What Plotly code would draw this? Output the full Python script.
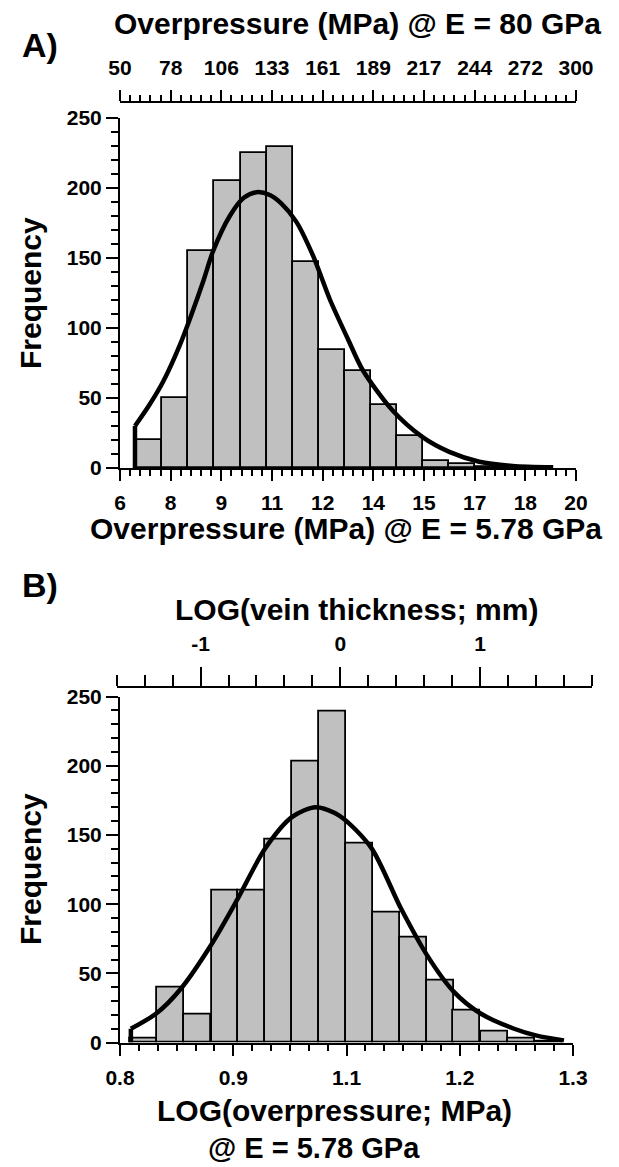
import numpy as np
import plotly.graph_objects as go

# The page body has an 8 px default margin, so the figure is 8 px smaller than the window
# on the right/bottom and every reference pixel position is shifted by 8 px.
OFF = 8
W, H = 619 - OFF, 1167 - OFF
FONT = "Liberation Sans, Arial, Helvetica, sans-serif"

# ---------------- Panel A data ----------------
a_bin_left = [6.5, 7.3, 8.1, 8.9, 9.7, 10.5, 11.3, 12.1, 12.9, 13.7, 14.5, 15.3, 16.1, 16.9, 17.7]
a_bin_width = 0.8
a_counts = [20, 50, 155, 205, 225, 229, 147, 84, 69, 45, 23, 5, 3, 1, 1]
a_curve_start_x = [6.46, 6.46]
a_curve_start_y = [0, 30]
a_curve_x = [6.46, 6.9, 7.33, 7.84, 8.2, 8.55, 8.86, 9.37, 9.8, 10.19, 10.6, 10.95,
             11.41, 11.92, 12.45, 13.0, 13.45, 14.37, 15.29, 16.11, 17.03, 18.05, 19.3]
a_curve_y = [30, 45, 62, 88, 110, 133, 155, 180, 193, 197, 195, 189,
             176, 152, 120, 92, 70, 41, 22, 11.5, 4.5, 1.5, 0.5]
a_bottom_ticktext = ["6", "8", "9", "11", "12", "14", "15", "17", "18", "20"]
a_top_ticktext = ["50", "78", "106", "133", "161", "189", "217", "244", "272", "300"]
a_bottom_range = [6, 20]
a_top_range = [50, 300]

# ---------------- Panel B data ----------------
b_bin_left = [0.811, 0.841, 0.871, 0.901, 0.930, 0.960, 0.990, 1.020, 1.049, 1.079,
              1.109, 1.139, 1.168, 1.198, 1.228, 1.258]
b_bin_width = 0.0297
b_counts = [3, 40, 20, 110, 110, 147, 203, 239, 144, 94, 76, 45, 23, 8, 3, 1]
b_curve_start_x = [0.812, 0.812]
b_curve_start_y = [0, 10]
b_curve_x = [0.812, 0.84, 0.866, 0.90, 0.93, 0.96, 0.99, 1.016, 1.042, 1.077,
             1.11, 1.139, 1.168, 1.198, 1.235, 1.26, 1.29]
b_curve_y = [10, 21, 38, 70, 104, 140, 163, 170, 164, 141,
             97, 63, 37, 21, 10, 5, 1.5]
b_bottom_ticktext = ["0.8", "0.9", "1.1", "1.2", "1.3"]
b_bottom_range = [0.8, 1.3]
b_top_tickvals = [-1, 0, 1]
b_top_ticktext = ["-1", "0", "1"]
b_top_range = [-1.6, 1.8]

y_range = [0, 250]


def px(x):
    return (x - OFF) / W


def py(y):
    return 1 - (y - OFF) / H


BAR_FILL = "#c0c0c0"
CURVE = dict(color="black", width=4.5)

fig = go.Figure()

fig.add_trace(go.Bar(x=a_bin_left, y=a_counts, width=a_bin_width, offset=0,
                     marker=dict(color=BAR_FILL, line=dict(color="black", width=1.8)),
                     xaxis="x", yaxis="y", showlegend=False, hoverinfo="skip"))
fig.add_trace(go.Scatter(x=a_curve_start_x, y=a_curve_start_y, mode="lines",
                         line=CURVE, xaxis="x", yaxis="y", showlegend=False, hoverinfo="skip"))
fig.add_trace(go.Scatter(x=a_curve_x, y=a_curve_y, mode="lines",
                         line=dict(**CURVE, shape="spline", smoothing=0.8),
                         xaxis="x", yaxis="y", showlegend=False, hoverinfo="skip"))
# empty trace so the top (secondary) axis of panel A is drawn
fig.add_trace(go.Scatter(x=a_top_range, y=[None, None], mode="markers",
                         marker=dict(opacity=0), xaxis="x2", yaxis="y",
                         showlegend=False, hoverinfo="skip"))

fig.add_trace(go.Bar(x=b_bin_left, y=b_counts, width=b_bin_width, offset=0,
                     marker=dict(color=BAR_FILL, line=dict(color="black", width=1.8)),
                     xaxis="x3", yaxis="y3", showlegend=False, hoverinfo="skip"))
fig.add_trace(go.Scatter(x=b_curve_start_x, y=b_curve_start_y, mode="lines",
                         line=CURVE, xaxis="x3", yaxis="y3", showlegend=False, hoverinfo="skip"))
fig.add_trace(go.Scatter(x=b_curve_x, y=b_curve_y, mode="lines",
                         line=dict(**CURVE, shape="spline", smoothing=0.8),
                         xaxis="x3", yaxis="y3", showlegend=False, hoverinfo="skip"))
# empty trace so the top axis of panel B is drawn
fig.add_trace(go.Scatter(x=b_top_range, y=[None, None], mode="markers",
                         marker=dict(opacity=0), xaxis="x4", yaxis="y4",
                         showlegend=False, hoverinfo="skip"))

tickfont = dict(family=FONT, size=21, color="black", weight="bold")
common = dict(showline=True, linecolor="black", linewidth=2, ticks="outside",
              tickcolor="black", tickwidth=2, showgrid=False, zeroline=False,
              tickfont=tickfont, automargin=False)

a_bottom_vals = list(np.linspace(a_bottom_range[0], a_bottom_range[1], len(a_bottom_ticktext)))
a_top_vals = list(np.linspace(a_top_range[0], a_top_range[1], len(a_top_ticktext)))
b_bottom_vals = list(np.linspace(b_bottom_range[0], b_bottom_range[1], len(b_bottom_ticktext)))

a_bdt = (a_bottom_range[1] - a_bottom_range[0]) / (len(a_bottom_ticktext) - 1)
a_tdt = (a_top_range[1] - a_top_range[0]) / (len(a_top_ticktext) - 1)
b_bdt = (b_bottom_range[1] - b_bottom_range[0]) / (len(b_bottom_ticktext) - 1)

fig.update_layout(
    width=W, height=H,
    margin=dict(l=0, r=0, t=0, b=0, autoexpand=False),
    paper_bgcolor="white", plot_bgcolor="white",
    bargap=0, showlegend=False,
    font=dict(family=FONT, color="black", weight="bold"),
    xaxis=dict(domain=[px(120), px(576)], range=a_bottom_range, anchor="y",
               tickmode="array", tickvals=a_bottom_vals, ticktext=a_bottom_ticktext,
               ticklen=11, ticklabelstandoff=4,
               minor=dict(ticks="outside", ticklen=6, tickwidth=2, tickcolor="black",
                          tick0=a_bottom_range[0], dtick=a_bdt / 5),
               **common),
    yaxis=dict(domain=[py(468), py(118)], range=y_range, anchor="x",
               dtick=50, ticklen=12,
               minor=dict(ticks="outside", ticklen=7, tickwidth=2, tickcolor="black", dtick=10),
               **common),
    xaxis2=dict(overlaying="x", anchor="free", position=py(102), side="top",
                range=a_top_range, tickmode="array", tickvals=a_top_vals,
                ticktext=a_top_ticktext, ticklen=11, ticklabelstandoff=7,
                minor=dict(ticks="outside", ticklen=6, tickwidth=2, tickcolor="black",
                           tick0=a_top_range[0], dtick=a_tdt / 5),
                **common),
    xaxis3=dict(domain=[px(120), px(573)], range=b_bottom_range, anchor="y3",
                tickmode="array", tickvals=b_bottom_vals, ticktext=b_bottom_ticktext,
                ticklen=11, ticklabelstandoff=4,
                minor=dict(ticks="outside", ticklen=6, tickwidth=2, tickcolor="black",
                           tick0=b_bottom_range[0], dtick=b_bdt / 6),
                **common),
    yaxis3=dict(domain=[py(1042.6), py(696.5)], range=y_range, anchor="x3",
                dtick=50, ticklen=12,
                minor=dict(ticks="outside", ticklen=7, tickwidth=2, tickcolor="black", dtick=10),
                **common),
    xaxis4=dict(domain=[px(116.7), px(592)], range=b_top_range, anchor="y4", side="top",
                tickmode="array", tickvals=b_top_tickvals, ticktext=b_top_ticktext,
                ticklen=19, ticklabelstandoff=8,
                minor=dict(ticks="outside", ticklen=11, tickwidth=2, tickcolor="black",
                           tick0=0, dtick=0.2),
                **common),
    yaxis4=dict(domain=[py(688.3) - 0.002, py(688.3)], anchor="x4", visible=False,
                range=[0, 1], automargin=False),
)


def add_text(text, x, y, size=30, angle=0):
    fig.add_annotation(text=text, x=px(x), y=py(y), xref="paper", yref="paper",
                       showarrow=False, xanchor="center", yanchor="middle",
                       textangle=angle,
                       font=dict(family=FONT, size=size, color="black", weight="bold"))


add_text("A)", 40, 45, size=34)
add_text("Overpressure (MPa) @ E = 80 GPa", 357, 24)
add_text("Frequency", 30, 293, angle=-90)
add_text("Overpressure (MPa) @ E = 5.78 GPa", 346, 528)

add_text("B)", 40, 585, size=34)
add_text("LOG(vein thickness; mm)", 356, 609)
add_text("Frequency", 30, 869, angle=-90)
add_text("LOG(overpressure; MPa)", 334, 1110)
add_text("@ E = 5.78 GPa", 314, 1148, size=29)

fig.write_html("out.html")
